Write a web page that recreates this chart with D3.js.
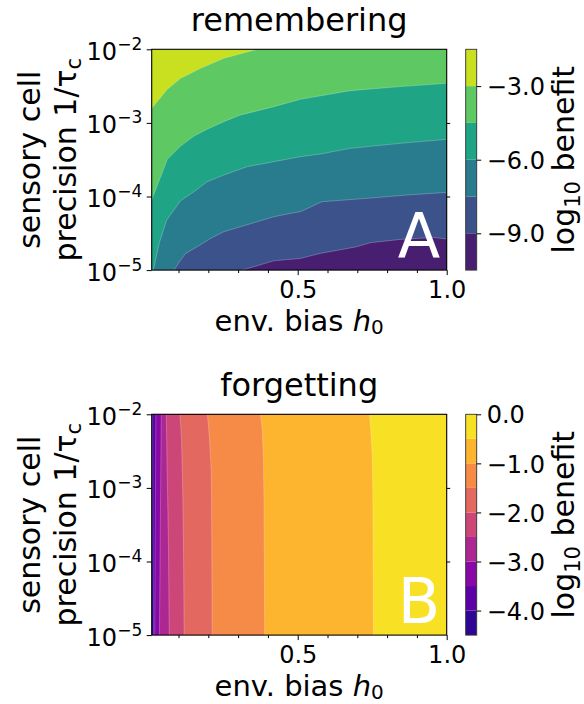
<!DOCTYPE html>
<html>
<head>
<meta charset="utf-8">
<script src="https://cdn.jsdelivr.net/npm/d3@7"></script>
<style>
  body { margin: 0; background: #fff; }
  text { font-family: "DejaVu Sans", sans-serif; fill: #000; }
</style>
</head>
<body>
<svg id="chart" width="584" height="704"></svg>
<script>
// ---- data ----
const h0Domain = [0.01, 1.0];
const precisionDomain = [1e-5, 1e-2];
const precisionTicks = [1e-5, 1e-4, 1e-3, 1e-2];
const h0MajorTicks = [0.5, 1.0];
const h0MinorTicks = [0.1, 0.2, 0.3, 0.4, 0.6, 0.7, 0.8, 0.9];

// remembering: contour levels of log10 benefit
const remLevels = [-10.5, -9, -7.5, -6, -4.5, -3, -1.5];
const remCbarTicks = [-9, -6, -3];
// contour lines as [h0, log10 precision], highest level first
const remLineM3  = [[0.01, -2.80], [0.0625, -2.544], [0.107, -2.394], [0.174, -2.258], [0.252, -2.122], [0.364, -2.0], [1.0, -2.0]];
const remLineM45 = [[0.01, -4.048], [0.0625, -3.495], [0.107, -3.314], [0.152, -3.178], [0.196, -3.087], [0.252, -2.983], [0.308, -2.893], [0.42, -2.779], [0.509, -2.68], [0.676, -2.562], [0.844, -2.507], [1.0, -2.462]];
const remLineM6  = [[0.0157, -5], [0.035, -4.637], [0.0603, -4.32], [0.107, -4.057], [0.152, -3.935], [0.196, -3.799], [0.252, -3.708], [0.33, -3.595], [0.42, -3.527], [0.509, -3.459], [0.576, -3.423], [0.676, -3.346], [0.844, -3.278], [1.0, -3.223]];
const remLineM75 = [[0.0848, -5], [0.107, -4.864], [0.124, -4.773], [0.163, -4.682], [0.208, -4.569], [0.252, -4.478], [0.308, -4.41], [0.364, -4.343], [0.42, -4.275], [0.487, -4.22], [0.509, -4.207], [0.581, -4.071], [0.732, -4.025], [0.866, -3.98], [1.0, -3.944]];
const remLineM9  = [[0.314, -5], [0.353, -4.954], [0.42, -4.873], [0.487, -4.85], [0.509, -4.841], [0.576, -4.773], [0.699, -4.682], [0.743, -4.628], [0.844, -4.583], [0.955, -4.556], [1.0, -4.578]];

// forgetting: contour levels of log10 benefit
const forLevels = [-4.5, -4, -3.5, -3, -2.5, -2, -1.5, -1, -0.5, 0];
const forCbarTicks = [-4, -3, -2, -1, 0];
// contour lines as [h0, log10 precision], lowest level first (left to right)
const forLineM4  = [[0.013, -2], [0.014, -3.5], [0.016, -5]];
const forLineM35 = [[0.024, -2], [0.022, -3.5], [0.020, -5]];
const forLineM3  = [[0.042, -2], [0.039, -3.5], [0.036, -5]];
const forLineM25 = [[0.059, -2], [0.062, -2.8], [0.066, -3.68], [0.069, -5]];
const forLineM2  = [[0.105, -2], [0.110, -2.33], [0.113, -2.78], [0.115, -3.23], [0.117, -3.91], [0.119, -5]];
const forLineM15 = [[0.197, -2], [0.204, -2.33], [0.210, -2.78], [0.211, -3.23], [0.212, -4], [0.213, -5]];
const forLineM1  = [[0.375, -2], [0.381, -2.2], [0.385, -2.6], [0.387, -3.2], [0.388, -4], [0.389, -5]];
const forLineM05 = [[0.741, -2], [0.745, -2.21], [0.750, -2.55], [0.752, -3.03], [0.753, -3.98], [0.754, -5]];

// ---- layout ----
const PLOT = { left: 151.7, right: 446.7, height: 220.8 };
const CBAR = { left: 465.7, width: 11 };

const panels = [
    { title: "remembering", top: 49.3, letter: "A", levels: remLevels, cbarTicks: remCbarTicks,
      lines: [remLineM3, remLineM45, remLineM6, remLineM75, remLineM9],
      cmap: d3.interpolateViridis, fillSide: "below" },
    { title: "forgetting", top: 414.3, letter: "B", levels: forLevels, cbarTicks: forCbarTicks,
      lines: [forLineM4, forLineM35, forLineM3, forLineM25, forLineM2, forLineM15, forLineM1, forLineM05],
      cmap: d3.interpolatePlasma, fillSide: "right" }
];

const svg = d3.select("#chart");

function drawPanel(p) {
    const top = p.top, bottom = p.top + PLOT.height;
    const x = d3.scaleLinear().domain(h0Domain).range([PLOT.left, PLOT.right]);
    const y = d3.scaleLog().domain(precisionDomain).range([bottom, top]);
    const py = d => y(Math.pow(10, d[1]));

    const nBands = p.levels.length - 1;
    const colors = d3.range(nBands).map(i => p.cmap((i + 0.5) / nBands));

    const clipId = "clip" + p.letter;
    svg.append("clipPath").attr("id", clipId)
        .append("rect")
        .attr("x", PLOT.left).attr("y", top)
        .attr("width", PLOT.right - PLOT.left).attr("height", PLOT.height);

    const fills = svg.append("g").attr("clip-path", `url(#${clipId})`);

    // base band, then paint each contour region on top of it
    fills.append("rect")
        .attr("x", PLOT.left).attr("y", top)
        .attr("width", PLOT.right - PLOT.left).attr("height", PLOT.height)
        .attr("fill", p.fillSide === "below" ? colors[nBands - 1] : colors[0]);

    let area;
    if (p.fillSide === "below") {
        area = d3.area().x(d => x(d[0])).y0(bottom).y1(py);
    } else {
        area = d3.area().y(py).x0(d => x(d[0])).x1(PLOT.right);
    }
    const line = d3.line().x(d => x(d[0])).y(py);

    fills.selectAll("path.band")
        .data(p.lines)
        .join("path")
        .attr("class", "band")
        .attr("d", area)
        .attr("fill", (d, i) => p.fillSide === "below" ? colors[nBands - 2 - i] : colors[i + 1]);

    // faint seams between filled regions
    fills.selectAll("path.seam")
        .data(p.lines)
        .join("path")
        .attr("class", "seam")
        .attr("d", line)
        .attr("fill", "none")
        .attr("stroke", "#fff")
        .attr("stroke-opacity", 0.3)
        .attr("stroke-width", 0.8);

    // letter
    svg.append("text")
        .attr("x", PLOT.right - 6.5).attr("y", bottom - 12)
        .attr("text-anchor", "end")
        .attr("font-size", 62)
        .style("fill", "#fff")
        .text(p.letter);

    // x axis
    const xAxis = svg.append("g")
        .attr("transform", `translate(0,${bottom})`)
        .call(d3.axisBottom(x).tickValues(h0MajorTicks).tickFormat(d3.format(".1f"))
            .tickSize(5).tickSizeOuter(0).tickPadding(5.5));
    xAxis.select(".domain").remove();
    xAxis.selectAll("text").attr("font-size", 24);

    const xMinor = svg.append("g")
        .attr("transform", `translate(0,${bottom})`)
        .call(d3.axisBottom(x).tickValues(h0MinorTicks).tickFormat("").tickSize(3).tickSizeOuter(0));
    xMinor.select(".domain").remove();

    // y axis, with 10^n labels
    const yAxis = svg.append("g")
        .attr("transform", `translate(${PLOT.left},0)`)
        .call(d3.axisLeft(y).tickValues(precisionTicks).tickFormat("").tickSize(5).tickSizeOuter(0));
    yAxis.select(".domain").remove();
    yAxis.selectAll(".tick").each(function(v) {
        const t = d3.select(this).append("text")
            .attr("x", -9.5).attr("y", 10)
            .attr("text-anchor", "end")
            .attr("font-size", 24)
            .style("fill", "#000");
        t.append("tspan").text("10");
        t.append("tspan").attr("dy", -10).attr("font-size", 17)
            .text("\u2212" + Math.abs(Math.round(Math.log10(v))));
    });

    // right-side ticks
    const yRight = svg.append("g")
        .attr("transform", `translate(${PLOT.right},0)`)
        .call(d3.axisRight(y).tickValues(precisionTicks.slice(1, 3)).tickFormat("").tickSize(3.5).tickSizeOuter(0));
    yRight.select(".domain").remove();

    // frame
    svg.append("rect")
        .attr("x", PLOT.left).attr("y", top)
        .attr("width", PLOT.right - PLOT.left).attr("height", PLOT.height)
        .attr("fill", "none").attr("stroke", "#000").attr("stroke-width", 1.1);

    // title and axis labels
    svg.append("text")
        .attr("x", (PLOT.left + PLOT.right) / 2).attr("y", top - 18)
        .attr("text-anchor", "middle").attr("font-size", 32)
        .text(p.title);

    const xl = svg.append("text")
        .attr("x", (PLOT.left + PLOT.right) / 2).attr("y", bottom + 60.5)
        .attr("text-anchor", "middle").attr("font-size", 29);
    xl.append("tspan").text("env. bias ");
    xl.append("tspan").attr("font-style", "italic").text("h");
    xl.append("tspan").attr("font-size", 20).attr("dy", 3).text("0");

    const cy = (top + bottom) / 2;
    const yl = svg.append("text")
        .attr("transform", `translate(0,${cy}) rotate(-90)`)
        .attr("text-anchor", "middle").attr("font-size", 30);
    yl.append("tspan").attr("x", 0).attr("y", 40).text("sensory cell");
    yl.append("tspan").attr("x", 0).attr("y", 76).text("precision 1/\u03C4")
        .append("tspan").attr("font-size", 21).attr("dy", 5).text("c");

    // colorbar
    const cScale = d3.scaleLinear().domain(d3.extent(p.levels)).range([bottom, top]);
    const cb = svg.append("g");
    cb.selectAll("rect.cband")
        .data(colors)
        .join("rect")
        .attr("class", "cband")
        .attr("x", CBAR.left).attr("width", CBAR.width)
        .attr("y", (c, i) => cScale(p.levels[i + 1]))
        .attr("height", (c, i) => cScale(p.levels[i]) - cScale(p.levels[i + 1]))
        .attr("fill", c => c);
    cb.append("rect")
        .attr("x", CBAR.left).attr("y", top)
        .attr("width", CBAR.width).attr("height", PLOT.height)
        .attr("fill", "none").attr("stroke", "#333").attr("stroke-width", 0.9);

    const cAxis = svg.append("g")
        .attr("transform", `translate(${CBAR.left + CBAR.width},0)`)
        .call(d3.axisRight(cScale).tickValues(p.cbarTicks).tickFormat(d3.format(".1f"))
            .tickSize(4.5).tickSizeOuter(0).tickPadding(5.5));
    cAxis.select(".domain").remove();
    cAxis.selectAll("text").attr("font-size", 24).attr("dy", "0.36em");

    const cl = svg.append("text")
        .attr("transform", `translate(574,${cy}) rotate(-90)`)
        .attr("text-anchor", "middle").attr("font-size", 30);
    cl.append("tspan").text("log");
    cl.append("tspan").attr("font-size", 21).attr("dy", 6).text("10");
    cl.append("tspan").attr("dy", -6).text(" benefit");
}

panels.forEach(drawPanel);
</script>
</body>
</html>
